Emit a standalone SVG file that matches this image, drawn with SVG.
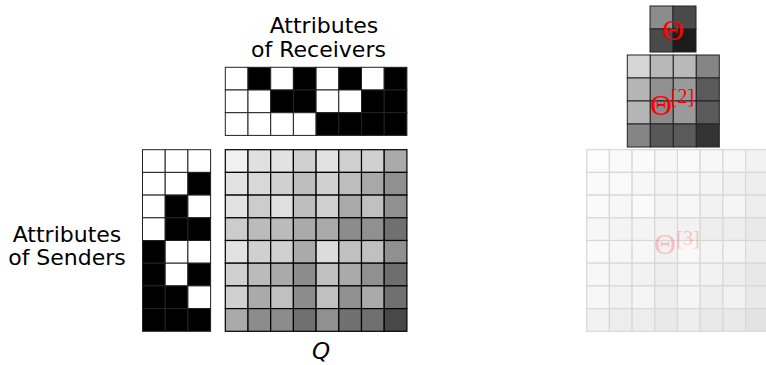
<svg xmlns="http://www.w3.org/2000/svg" width="766" height="365" viewBox="0 0 766 365">
<style>
.lbl{font-family:"DejaVu Sans","Liberation Sans",sans-serif;font-size:22px;fill:#000;text-anchor:middle}
.q{font-family:"DejaVu Sans","Liberation Sans",sans-serif;font-style:italic;font-size:23px;fill:#000;text-anchor:middle}
.th{font-family:"Liberation Serif","DejaVu Serif",serif;fill:#ff0000}
.bw rect{stroke:#222;stroke-width:1}
.tm rect{stroke:#222;stroke-width:1}
.w{fill:#fff}.b{fill:#000}
</style>
<rect width="766" height="365" fill="#fff"/>
<g id="connectors"/>
<g id="label-receivers">
<text class="lbl" x="324" y="32.5">Attributes</text>
<text class="lbl" x="318.5" y="56.5">of Receivers</text>
</g>
<g id="label-senders">
<text class="lbl" x="67" y="241.5">Attributes</text>
<text class="lbl" x="67" y="265">of Senders</text>
</g>
<g id="label-q"><text class="q" x="321" y="359">Q</text></g>
<g id="receivers" class="bw">
<rect class="w" x="225.3" y="67.3" width="22.7" height="22.7"/><rect class="b" x="248" y="67.3" width="22.7" height="22.7"/><rect class="w" x="270.7" y="67.3" width="22.7" height="22.7"/><rect class="b" x="293.4" y="67.3" width="22.7" height="22.7"/><rect class="w" x="316.1" y="67.3" width="22.7" height="22.7"/><rect class="b" x="338.8" y="67.3" width="22.7" height="22.7"/><rect class="w" x="361.5" y="67.3" width="22.7" height="22.7"/><rect class="b" x="384.2" y="67.3" width="22.7" height="22.7"/>
<rect class="w" x="225.3" y="90" width="22.7" height="22.7"/><rect class="w" x="248" y="90" width="22.7" height="22.7"/><rect class="b" x="270.7" y="90" width="22.7" height="22.7"/><rect class="b" x="293.4" y="90" width="22.7" height="22.7"/><rect class="w" x="316.1" y="90" width="22.7" height="22.7"/><rect class="w" x="338.8" y="90" width="22.7" height="22.7"/><rect class="b" x="361.5" y="90" width="22.7" height="22.7"/><rect class="b" x="384.2" y="90" width="22.7" height="22.7"/>
<rect class="w" x="225.3" y="112.7" width="22.7" height="22.7"/><rect class="w" x="248" y="112.7" width="22.7" height="22.7"/><rect class="w" x="270.7" y="112.7" width="22.7" height="22.7"/><rect class="w" x="293.4" y="112.7" width="22.7" height="22.7"/><rect class="b" x="316.1" y="112.7" width="22.7" height="22.7"/><rect class="b" x="338.8" y="112.7" width="22.7" height="22.7"/><rect class="b" x="361.5" y="112.7" width="22.7" height="22.7"/><rect class="b" x="384.2" y="112.7" width="22.7" height="22.7"/>
</g>
<g id="senders" class="bw">
<rect class="w" x="142.5" y="149.7" width="22.7" height="22.7"/><rect class="w" x="165.2" y="149.7" width="22.7" height="22.7"/><rect class="w" x="187.9" y="149.7" width="22.7" height="22.7"/>
<rect class="w" x="142.5" y="172.4" width="22.7" height="22.7"/><rect class="w" x="165.2" y="172.4" width="22.7" height="22.7"/><rect class="b" x="187.9" y="172.4" width="22.7" height="22.7"/>
<rect class="w" x="142.5" y="195.1" width="22.7" height="22.7"/><rect class="b" x="165.2" y="195.1" width="22.7" height="22.7"/><rect class="w" x="187.9" y="195.1" width="22.7" height="22.7"/>
<rect class="w" x="142.5" y="217.8" width="22.7" height="22.7"/><rect class="b" x="165.2" y="217.8" width="22.7" height="22.7"/><rect class="b" x="187.9" y="217.8" width="22.7" height="22.7"/>
<rect class="b" x="142.5" y="240.5" width="22.7" height="22.7"/><rect class="w" x="165.2" y="240.5" width="22.7" height="22.7"/><rect class="w" x="187.9" y="240.5" width="22.7" height="22.7"/>
<rect class="b" x="142.5" y="263.2" width="22.7" height="22.7"/><rect class="w" x="165.2" y="263.2" width="22.7" height="22.7"/><rect class="b" x="187.9" y="263.2" width="22.7" height="22.7"/>
<rect class="b" x="142.5" y="285.9" width="22.7" height="22.7"/><rect class="b" x="165.2" y="285.9" width="22.7" height="22.7"/><rect class="w" x="187.9" y="285.9" width="22.7" height="22.7"/>
<rect class="b" x="142.5" y="308.6" width="22.7" height="22.7"/><rect class="b" x="165.2" y="308.6" width="22.7" height="22.7"/><rect class="b" x="187.9" y="308.6" width="22.7" height="22.7"/>
</g>
<defs>
<g id="qcells" stroke="#000" stroke-width="1.2">
<rect x="0" y="0" width="22.7" height="22.7" fill="#f0f0f0"/><rect x="22.7" y="0" width="22.7" height="22.7" fill="#e0e0e0"/><rect x="45.4" y="0" width="22.7" height="22.7" fill="#e2e2e2"/><rect x="68.1" y="0" width="22.7" height="22.7" fill="#d0d0d0"/><rect x="90.8" y="0" width="22.7" height="22.7" fill="#e2e2e2"/><rect x="113.5" y="0" width="22.7" height="22.7" fill="#d0d0d0"/><rect x="136.2" y="0" width="22.7" height="22.7" fill="#d0d0d0"/><rect x="158.9" y="0" width="22.7" height="22.7" fill="#aaaaaa"/>
<rect x="0" y="22.7" width="22.7" height="22.7" fill="#e2e2e2"/><rect x="22.7" y="22.7" width="22.7" height="22.7" fill="#d8d8d8"/><rect x="45.4" y="22.7" width="22.7" height="22.7" fill="#d0d0d0"/><rect x="68.1" y="22.7" width="22.7" height="22.7" fill="#bdbdbd"/><rect x="90.8" y="22.7" width="22.7" height="22.7" fill="#d0d0d0"/><rect x="113.5" y="22.7" width="22.7" height="22.7" fill="#bdbdbd"/><rect x="136.2" y="22.7" width="22.7" height="22.7" fill="#a8a8a8"/><rect x="158.9" y="22.7" width="22.7" height="22.7" fill="#909090"/>
<rect x="0" y="45.4" width="22.7" height="22.7" fill="#e2e2e2"/><rect x="22.7" y="45.4" width="22.7" height="22.7" fill="#cccccc"/><rect x="45.4" y="45.4" width="22.7" height="22.7" fill="#e0e0e0"/><rect x="68.1" y="45.4" width="22.7" height="22.7" fill="#bdbdbd"/><rect x="90.8" y="45.4" width="22.7" height="22.7" fill="#d0d0d0"/><rect x="113.5" y="45.4" width="22.7" height="22.7" fill="#aaaaaa"/><rect x="136.2" y="45.4" width="22.7" height="22.7" fill="#c0c0c0"/><rect x="158.9" y="45.4" width="22.7" height="22.7" fill="#909090"/>
<rect x="0" y="68.1" width="22.7" height="22.7" fill="#cccccc"/><rect x="22.7" y="68.1" width="22.7" height="22.7" fill="#bbbbbb"/><rect x="45.4" y="68.1" width="22.7" height="22.7" fill="#bbbbbb"/><rect x="68.1" y="68.1" width="22.7" height="22.7" fill="#aaaaaa"/><rect x="90.8" y="68.1" width="22.7" height="22.7" fill="#aaaaaa"/><rect x="113.5" y="68.1" width="22.7" height="22.7" fill="#8c8c8c"/><rect x="136.2" y="68.1" width="22.7" height="22.7" fill="#909090"/><rect x="158.9" y="68.1" width="22.7" height="22.7" fill="#707070"/>
<rect x="0" y="90.8" width="22.7" height="22.7" fill="#e2e2e2"/><rect x="22.7" y="90.8" width="22.7" height="22.7" fill="#d0d0d0"/><rect x="45.4" y="90.8" width="22.7" height="22.7" fill="#d0d0d0"/><rect x="68.1" y="90.8" width="22.7" height="22.7" fill="#aaaaaa"/><rect x="90.8" y="90.8" width="22.7" height="22.7" fill="#dcdcdc"/><rect x="113.5" y="90.8" width="22.7" height="22.7" fill="#c0c0c0"/><rect x="136.2" y="90.8" width="22.7" height="22.7" fill="#c0c0c0"/><rect x="158.9" y="90.8" width="22.7" height="22.7" fill="#909090"/>
<rect x="0" y="113.5" width="22.7" height="22.7" fill="#d0d0d0"/><rect x="22.7" y="113.5" width="22.7" height="22.7" fill="#bbbbbb"/><rect x="45.4" y="113.5" width="22.7" height="22.7" fill="#aaaaaa"/><rect x="68.1" y="113.5" width="22.7" height="22.7" fill="#8c8c8c"/><rect x="90.8" y="113.5" width="22.7" height="22.7" fill="#c0c0c0"/><rect x="113.5" y="113.5" width="22.7" height="22.7" fill="#aaaaaa"/><rect x="136.2" y="113.5" width="22.7" height="22.7" fill="#909090"/><rect x="158.9" y="113.5" width="22.7" height="22.7" fill="#6e6e6e"/>
<rect x="0" y="136.2" width="22.7" height="22.7" fill="#d0d0d0"/><rect x="22.7" y="136.2" width="22.7" height="22.7" fill="#aaaaaa"/><rect x="45.4" y="136.2" width="22.7" height="22.7" fill="#c0c0c0"/><rect x="68.1" y="136.2" width="22.7" height="22.7" fill="#8c8c8c"/><rect x="90.8" y="136.2" width="22.7" height="22.7" fill="#c0c0c0"/><rect x="113.5" y="136.2" width="22.7" height="22.7" fill="#909090"/><rect x="136.2" y="136.2" width="22.7" height="22.7" fill="#aaaaaa"/><rect x="158.9" y="136.2" width="22.7" height="22.7" fill="#707070"/>
<rect x="0" y="158.9" width="22.7" height="22.7" fill="#aaaaaa"/><rect x="22.7" y="158.9" width="22.7" height="22.7" fill="#8c8c8c"/><rect x="45.4" y="158.9" width="22.7" height="22.7" fill="#8c8c8c"/><rect x="68.1" y="158.9" width="22.7" height="22.7" fill="#707070"/><rect x="90.8" y="158.9" width="22.7" height="22.7" fill="#909090"/><rect x="113.5" y="158.9" width="22.7" height="22.7" fill="#707070"/><rect x="136.2" y="158.9" width="22.7" height="22.7" fill="#707070"/><rect x="158.9" y="158.9" width="22.7" height="22.7" fill="#484848"/>
</g>
</defs>
<g id="q-matrix"><use href="#qcells" x="225.3" y="149.7"/></g>
<g id="theta" class="tm">
<rect x="650" y="6" width="23" height="23" fill="#8c8c8c"/><rect x="673" y="6" width="23" height="23" fill="#4a4a4a"/>
<rect x="650" y="29" width="23" height="23" fill="#4a4a4a"/><rect x="673" y="29" width="23" height="23" fill="#1c1c1c"/>
<text class="th" x="673" y="39.5" font-size="30" text-anchor="middle">Θ</text>
</g>
<g id="theta2" class="tm">
<rect x="627.3" y="55" width="23" height="23" fill="#d6d6d6"/><rect x="650.3" y="55" width="23" height="23" fill="#b8b8b8"/><rect x="673.3" y="55" width="23" height="23" fill="#b9b9b9"/><rect x="696.3" y="55" width="23" height="23" fill="#858585"/>
<rect x="627.3" y="78" width="23" height="23" fill="#b5b5b5"/><rect x="650.3" y="78" width="23" height="23" fill="#909090"/><rect x="673.3" y="78" width="23" height="23" fill="#9a9a9a"/><rect x="696.3" y="78" width="23" height="23" fill="#5a5a5a"/>
<rect x="627.3" y="101" width="23" height="23" fill="#b5b5b5"/><rect x="650.3" y="101" width="23" height="23" fill="#8b8b8b"/><rect x="673.3" y="101" width="23" height="23" fill="#9a9a9a"/><rect x="696.3" y="101" width="23" height="23" fill="#5a5a5a"/>
<rect x="627.3" y="124" width="23" height="23" fill="#858585"/><rect x="650.3" y="124" width="23" height="23" fill="#585858"/><rect x="673.3" y="124" width="23" height="23" fill="#5a5a5a"/><rect x="696.3" y="124" width="23" height="23" fill="#333333"/>
<text class="th" x="661" y="115" font-size="30" text-anchor="middle">Θ</text>
<text class="th" x="682.5" y="103" font-size="20" text-anchor="middle">[2]</text>
</g>
<g id="theta3">
<use href="#qcells" x="586.7" y="149.7" opacity="0.15"/>
<g opacity="0.2">
<text class="th" x="665" y="254" font-size="30" text-anchor="middle">Θ</text>
<text class="th" x="688" y="245" font-size="20" text-anchor="middle">[3]</text>
</g>
</g>
</svg>
